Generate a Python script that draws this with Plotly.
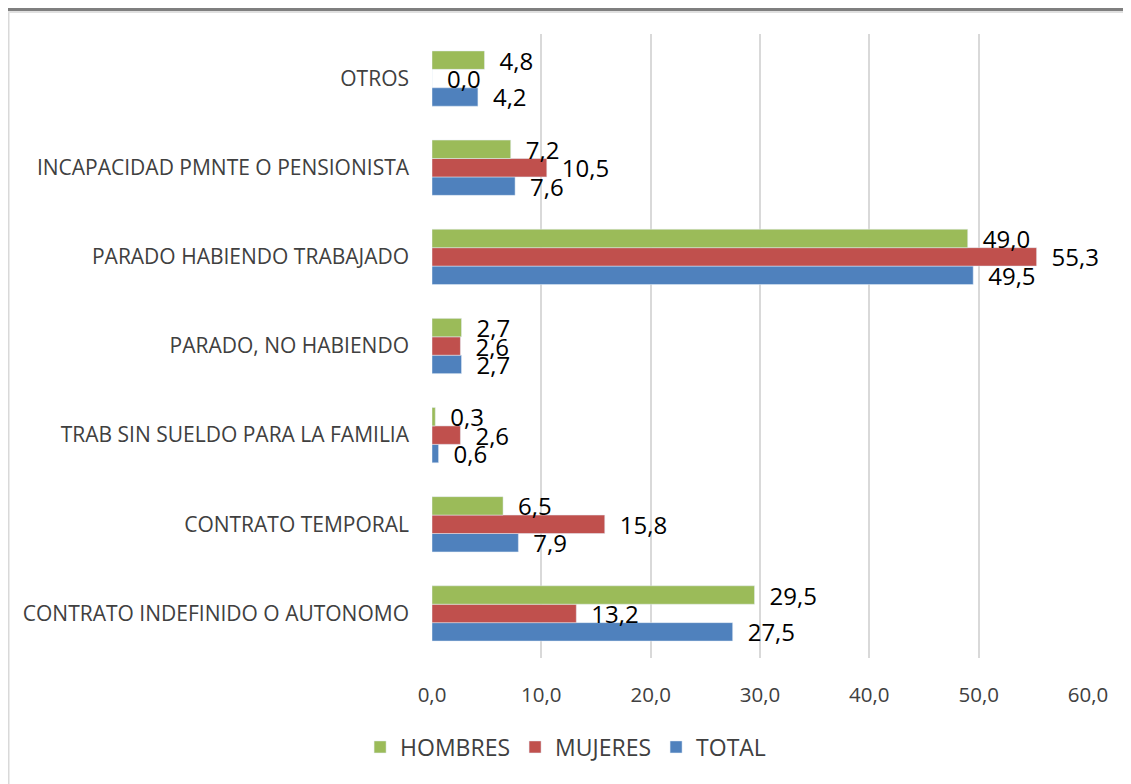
import plotly.graph_objects as go

categories = ["CONTRATO INDEFINIDO O AUTONOMO", "CONTRATO TEMPORAL", "TRAB SIN SUELDO PARA LA FAMILIA",
              "PARADO, NO HABIENDO", "PARADO HABIENDO TRABAJADO", "INCAPACIDAD PMNTE O PENSIONISTA", "OTROS"]
total = [27.5, 7.9, 0.6, 2.7, 49.5, 7.6, 4.2]
mujeres = [13.2, 15.8, 2.6, 2.6, 55.3, 10.5, 0.0]
hombres = [29.5, 6.5, 0.3, 2.7, 49.0, 7.2, 4.8]

# page body has an 8px margin, so the figure starts at (8, 8)
W, H = 1131, 784
ML, MR, MT, MB = 424, 51, 26, 134
ph = H - MT - MB
pw = W - ML - MR

fig = go.Figure()
for name, vals, col in [("TOTAL", total, "#4F81BD"), ("MUJERES", mujeres, "#C0504D"), ("HOMBRES", hombres, "#9BBB59")]:
    fig.add_trace(go.Bar(
        y=categories, x=vals, name=name, orientation="h", marker_color=col,
        text=["\u2002" + f"{v:.1f}".replace(".", ",") for v in vals], textposition="outside",
        constraintext="none", cliponaxis=False,
        textfont=dict(size=24, color="#000000"),
    ))

fig.update_layout(
    width=W, height=H, barmode="group", bargap=0.38, bargroupgap=0,
    separators=",.", plot_bgcolor="white", paper_bgcolor="white",
    font=dict(family="Open Sans, sans-serif", size=21, color="#404040"),
    margin=dict(l=ML, r=MR, t=MT, b=MB, autoexpand=False),
    xaxis=dict(range=[0, 60], dtick=10, tickformat=".1f", showgrid=True, gridcolor="#d9d9d9",
               gridwidth=2, zeroline=False, showline=False, ticklabelstandoff=22,
               tickfont=dict(size=20.5, color="#404040")),
    yaxis=dict(showgrid=False, zeroline=False, showline=False, ticklabelstandoff=22,
               tickfont=dict(size=21, color="#404040")),
    legend=dict(orientation="h", xref="container", x=0.493, xanchor="center", yref="container",
                y=1 - 739 / H, yanchor="middle", traceorder="reversed",
                font=dict(size=23, color="#404040")),
    shapes=[
        dict(type="rect", xref="paper", yref="paper", x0=-ML / pw, x1=1 + MR / pw,
             y0=1 + (MT - 3) / ph, y1=1 + MT / ph, fillcolor="#7f7f7f", line_width=0),
        dict(type="rect", xref="paper", yref="paper", x0=-ML / pw, x1=1 + MR / pw,
             y0=1 + (MT - 5) / ph, y1=1 + (MT - 3) / ph, fillcolor="#e0e0e0", line_width=0),
        dict(type="line", xref="paper", yref="paper", x0=-ML / pw + 0.5 / pw, x1=-ML / pw + 0.5 / pw,
             y0=-MB / ph, y1=1 + (MT - 5) / ph, line=dict(color="#d9d9d9", width=2)),
    ],
)

fig.write_html("out.html")
